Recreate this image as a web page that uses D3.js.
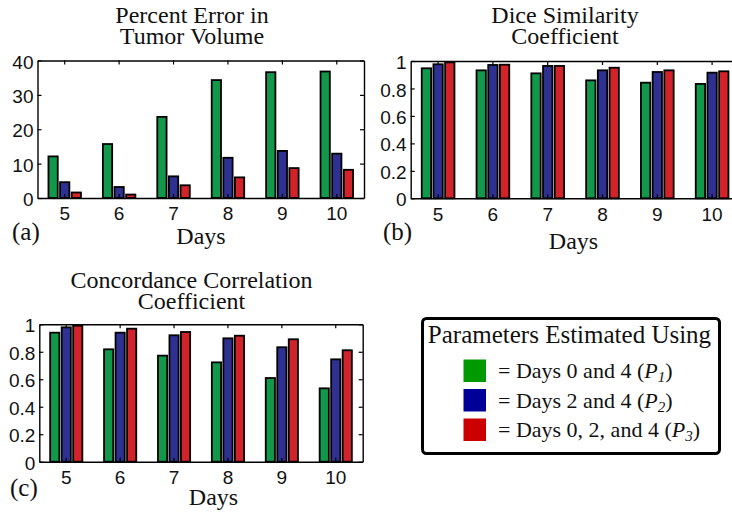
<!DOCTYPE html>
<html>
<head>
<meta charset="utf-8">
<script src="https://cdn.jsdelivr.net/npm/d3@7"></script>
<style>
  html, body { margin: 0; padding: 0; background: #fff; overflow: hidden; }
  svg { display: block; }
  .tick text { font-family: "Liberation Sans", Arial, sans-serif; font-size: 19px; fill: #111; }
  .serif { font-family: "Liberation Serif", "Times New Roman", serif; fill: #111; }
</style>
</head>
<body>
<svg id="fig" width="732" height="516"></svg>
<script>
// Days on the x axis and the three parameter-estimation schemes
const days = [5, 6, 7, 8, 9, 10];
const seriesKeys = ["P1", "P2", "P3"];

// (a) Percent error in tumor volume
const pctErrorP1 = [12.1, 15.7, 23.6, 34.3, 36.6, 36.8];
const pctErrorP2 = [4.6, 3.2, 6.3, 11.7, 13.7, 12.9];
const pctErrorP3 = [1.6, 1.0, 3.7, 6.0, 8.7, 8.2];

// (b) Dice similarity coefficient
const diceP1 = [0.947, 0.932, 0.910, 0.859, 0.842, 0.833];
const diceP2 = [0.976, 0.971, 0.964, 0.932, 0.920, 0.915];
const diceP3 = [0.990, 0.973, 0.964, 0.951, 0.932, 0.925];

// (c) Concordance correlation coefficient
const cccP1 = [0.939, 0.818, 0.772, 0.723, 0.609, 0.534];
const cccP2 = [0.978, 0.939, 0.920, 0.898, 0.833, 0.745];
const cccP3 = [0.990, 0.968, 0.944, 0.917, 0.891, 0.811];

// Axis tick values
const pctErrorTicks = [0, 10, 20, 30, 40];
const coefTicks = [0, 0.2, 0.4, 0.6, 0.8, 1];

// Legend text
const legendTitle = "Parameters Estimated Using";
const legendLabels = ["= Days 0 and 4 (", "= Days 2 and 4 (", "= Days 0, 2, and 4 ("];
const legendSubs = ["1", "2", "3"];

const barColors = d3.scaleOrdinal().domain(seriesKeys).range(["#12984a", "#2e3192", "#d2232a"]);
const swatchColors = d3.scaleOrdinal().domain(seriesKeys).range(["#009a00", "#000099", "#cc0000"]);

const svg = d3.select("#fig");

function rows(a, b, c) {
  return days.map((d, i) => ({ day: d, values: [a[i], b[i], c[i]] }));
}

const coefFormat = d => (d === 0 || d === 1) ? String(d) : d3.format(".1f")(d);

const panels = [
  { box: [37.5, 60.5, 364, 198], domain: [0, 40], ticks: pctErrorTicks, fmt: d3.format("d"),
    data: rows(pctErrorP1, pctErrorP2, pctErrorP3),
    title: ["Percent Error in", "Tumor Volume"], titleX: 192, titleY: [23, 44],
    tag: "(a)", tagX: 12, tagY: 240, daysX: 201, daysY: 244 },
  { box: [410.7, 61, 739.5, 198.3], domain: [0, 1], ticks: coefTicks, fmt: coefFormat,
    data: rows(diceP1, diceP2, diceP3),
    title: ["Dice Similarity", "Coefficient"], titleX: 565, titleY: [23, 44],
    tag: "(b)", tagX: 383, tagY: 240, daysX: 573.5, daysY: 249 },
  { box: [39.3, 324.3, 362.7, 461.7], domain: [0, 1], ticks: coefTicks, fmt: coefFormat,
    data: rows(cccP1, cccP2, cccP3),
    title: ["Concordance Correlation", "Coefficient"], titleX: 191.5, titleY: [288, 308.5],
    tag: "(c)", tagX: 10, tagY: 496, daysX: 213.5, daysY: 505 }
];

panels.forEach(p => {
  const [x0, y0, x1, y1] = p.box;
  const w = x1 - x0, h = y1 - y0;
  const g = svg.append("g").attr("transform", `translate(${x0},${y0})`);

  const x = d3.scaleBand().domain(days).range([0, w]).paddingInner(0).paddingOuter(0);
  const bw = x.bandwidth();
  const xs = d3.scaleBand().domain(seriesKeys)
    .range([bw * 0.5 - bw * 0.32, bw * 0.5 + bw * 0.32])
    .paddingInner(0.2).paddingOuter(0.1);
  const y = d3.scaleLinear().domain(p.domain).range([h, 0]);

  // grouped bars
  const grp = g.selectAll("g.day").data(p.data).join("g")
    .attr("class", "day")
    .attr("transform", d => `translate(${x(d.day)},0)`);
  grp.selectAll("rect").data(d => d.values.map((v, i) => ({ key: seriesKeys[i], v })))
    .join("rect")
    .attr("x", d => xs(d.key))
    .attr("width", xs.bandwidth())
    .attr("y", d => y(d.v))
    .attr("height", d => h - y(d.v))
    .attr("fill", d => barColors(d.key))
    .attr("stroke", "#000")
    .attr("stroke-width", 1.8);

  // axes: ticks point inward on all four sides
  const yl = d3.axisLeft(y).tickValues(p.ticks).tickFormat(p.fmt).tickSizeInner(-4).tickSizeOuter(0).tickPadding(4);
  const yr = d3.axisRight(y).tickValues(p.ticks).tickFormat("").tickSizeInner(-4).tickSizeOuter(0);
  const xb = d3.axisBottom(x).tickSizeInner(-4).tickSizeOuter(0).tickPadding(9);
  const xt = d3.axisTop(x).tickFormat("").tickSizeInner(-4).tickSizeOuter(0);

  const axL = g.append("g").call(yl);
  axL.selectAll(".tick text").attr("dy", "0.4em");
  g.append("g").attr("transform", `translate(${w},0)`).call(yr);
  g.append("g").attr("transform", `translate(0,${h})`).call(xb);
  g.append("g").call(xt);
  g.selectAll(".domain").attr("stroke", "#000").attr("stroke-width", 1.4);
  g.selectAll(".tick line").attr("stroke", "#000").attr("stroke-width", 1.2);

  // two-line title, panel tag and axis label
  p.title.forEach((t, i) => {
    svg.append("text").attr("class", "serif").attr("x", p.titleX).attr("y", p.titleY[i])
      .attr("text-anchor", "middle").style("font-size", "24px").text(t);
  });
  svg.append("text").attr("class", "serif").attr("x", p.tagX).attr("y", p.tagY)
    .style("font-size", "25px").text(p.tag);
  svg.append("text").attr("class", "serif").attr("x", p.daysX).attr("y", p.daysY)
    .attr("text-anchor", "middle").style("font-size", "24px").text("Days");
});

// legend box
const lg = svg.append("g");
lg.append("rect").attr("x", 422.5).attr("y", 318.5).attr("width", 297).attr("height", 135)
  .attr("rx", 4).attr("fill", "#fff").attr("stroke", "#000").attr("stroke-width", 3);
lg.append("text").attr("class", "serif").attr("x", 569.5).attr("y", 343)
  .attr("text-anchor", "middle").style("font-size", "25px").text(legendTitle);

const ly = d3.scalePoint().domain(seriesKeys).range([359.5, 418.5]);
seriesKeys.forEach((k, i) => {
  lg.append("rect").attr("x", 463.5).attr("y", ly(k)).attr("width", 22.5).attr("height", 22.5)
    .attr("fill", swatchColors(k));
  const t = lg.append("text").attr("class", "serif").attr("x", 498).attr("y", ly(k) + 18.5)
    .style("font-size", "22px");
  t.append("tspan").text(legendLabels[i]);
  t.append("tspan").style("font-style", "italic").text("P");
  t.append("tspan").style("font-style", "italic").style("font-size", "15px").attr("dy", 4).text(legendSubs[i]);
  t.append("tspan").attr("dy", -4).text(")");
});
</script>
</body>
</html>
